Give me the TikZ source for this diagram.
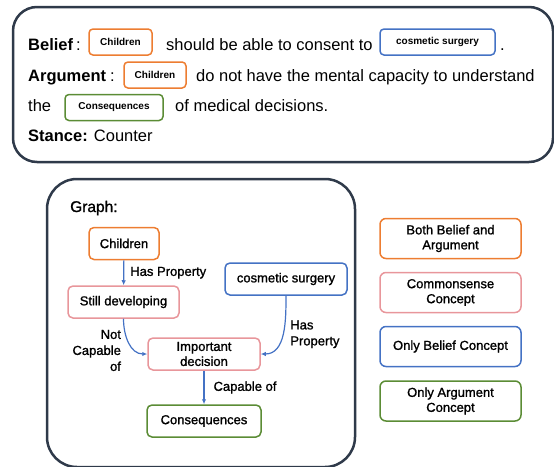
\documentclass[tikz,border=0pt]{standalone}
\usepackage{fontspec}
\setmainfont{Liberation Sans}
\newfontfamily\medfont{Liberation Sans}[FakeBold=1.2]
\usetikzlibrary{positioning,arrows.meta}
\definecolor{cBoth}{HTML}{ED7D31}
\definecolor{cCommon}{HTML}{E8969B}
\definecolor{cBelief}{HTML}{4472C4}
\definecolor{cArg}{HTML}{5B8C35}
\definecolor{frame}{HTML}{2F3A4A}
\definecolor{edgeblue}{HTML}{4472C4}

\begin{document}
\begin{tikzpicture}[x=1pt, y=-1pt,
  txt/.style={anchor=base west, inner sep=0pt, font=\fontsize{16.5}{19}\selectfont},
  txtb/.style={txt, font=\bfseries\fontsize{16.5}{19}\selectfont},
  tag/.style={line width=1.5pt, draw=#1, rounded corners=4pt, minimum height=26pt, inner sep=0pt, font=\bfseries\fontsize{10}{12}\selectfont},
  concept/.style={line width=1.5pt, draw=#1, fill=white, rounded corners=5pt, minimum height=32pt, inner sep=0pt, align=center, font=\medfont\fontsize{13}{15}\selectfont},
  key/.style={line width=1.5pt, draw=#1, rounded corners=6pt, minimum width=141pt, minimum height=40pt, inner sep=0pt, align=center, font=\medfont\fontsize{13}{15}\selectfont},
  rel/.style={-{Latex[length=5pt,width=4.5pt]}, draw=edgeblue, line width=1.2pt},
  lbl/.style={inner sep=0pt, font=\medfont\fontsize{13}{16}\selectfont}]
\useasboundingbox (0,0) rectangle (554,466);

% belief / argument text
\draw[frame, line width=2.5pt, rounded corners=24pt] (13,7) rectangle (553,162);
\node[txtb] (belief) at (28,50) {Belief};
\node[txt] (bcolon) at (76,50) {:};
\node[tag=cBoth, minimum width=63pt] (bchild) at (120.5,42) {Children};
\node[txt] (btext) at (166,50) {should be able to consent to};
\node[tag=cBelief, minimum width=115pt] (bsurg) at (437.5,42) {cosmetic surgery};
\node[txt] (bdot) at (500,50) {.};
\node[txtb] (argument) at (28,81) {Argument};
\node[txt] (acolon) at (110,81) {:};
\node[tag=cBoth, minimum width=62pt] (achild) at (155,75) {Children};
\node[txt] (atext) at (196,81) {do not have the mental capacity to understand};
\node[txt] (athe) at (28,111) {the};
\node[tag=cArg, minimum width=98pt] (acons) at (114,107.5) {Consequences};
\node[txt] (aend) at (175,111) {of medical decisions.};
\node[txt] (stance) at (28,141) {\textbf{Stance:} Counter};

% graph
\draw[frame, line width=2.5pt, rounded corners=30pt] (47,179) rectangle (355,467);
\node[anchor=base west, inner sep=0pt, font=\medfont\fontsize{15.5}{18}\selectfont] (gtitle) at (70,212) {Graph:};
\node[concept=cBoth, minimum width=70pt] (children) at (124,243.5) {Children};
\node[concept=cCommon, minimum width=111pt] (still) at (123.5,302) {Still developing};
\node[concept=cBelief, minimum width=122pt] (cosmetic) at (286,279) {cosmetic surgery};
\node[concept=cCommon, minimum width=112pt] (decision) at (204,354) {Important\\decision};
\node[concept=cArg, minimum width=114pt] (conseq) at (204,421) {Consequences};

\draw[rel] (children) -- node[lbl, right=6pt] {Has Property} (still);
\draw[rel] (still.south) .. controls +(0,17) and +(-17,0) .. node[lbl, pos=0.6, left=10pt, yshift=-4pt, align=right] {Not\\Capable\\of} (decision.west);
\draw[rel] (cosmetic.south) .. controls +(0,25) and +(25,0) .. node[lbl, pos=0.5, right=7pt, align=left] {Has\\Property} (decision.east);
\draw[rel] (decision) -- node[lbl, right=9pt] {Capable of} (conseq);

% legend
\node[key=cBoth] (kboth) at (450.5,238.5) {Both Belief and\\Argument};
\node[key=cCommon] (kcommon) at (450.5,292.5) {Commonsense\\Concept};
\node[key=cBelief] (kbelief) at (450.5,346.5) {Only Belief Concept};
\node[key=cArg] (karg) at (450.5,401) {Only Argument\\Concept};
\end{tikzpicture}
\end{document}
